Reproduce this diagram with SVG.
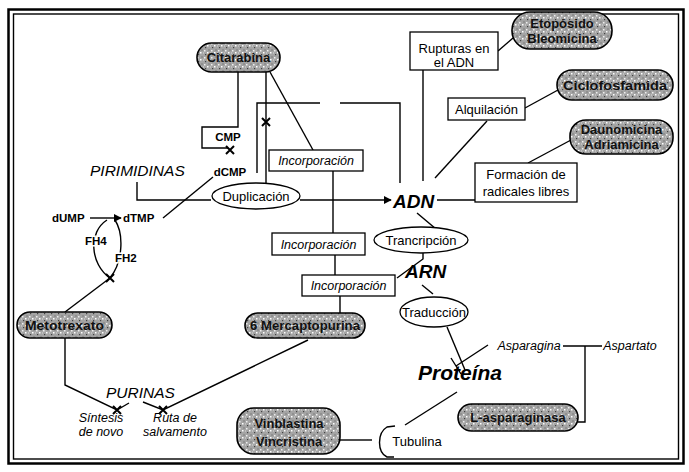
<svg xmlns="http://www.w3.org/2000/svg" width="689" height="472" viewBox="0 0 689 472">
<defs>
<pattern id="speck" width="7" height="7" patternUnits="userSpaceOnUse">
<rect width="7" height="7" fill="#a4a4a4"/>
<rect x="1" y="1" width="1.5" height="1.5" fill="#eee"/>
<rect x="4" y="3" width="1.5" height="1.5" fill="#fff"/>
<rect x="2" y="5" width="1.2" height="1.2" fill="#444"/>
<rect x="5.5" y="0.5" width="1" height="1" fill="#555"/>
<rect x="0" y="3.5" width="1" height="1" fill="#ddd"/>
</pattern>
<marker id="arr" viewBox="0 0 10 10" refX="9" refY="5" markerWidth="8" markerHeight="8" markerUnits="userSpaceOnUse" orient="auto">
<path d="M0,0 L10,5 L0,10 Z" fill="#000"/>
</marker>
</defs>
<style>
.ln{fill:none;stroke:#000;stroke-width:1.4}
.pill{fill:url(#speck);stroke:#000;stroke-width:1.6}
.box{fill:#fff;stroke:#000;stroke-width:1.3}
.ell{fill:#fff;stroke:#000;stroke-width:1.3}
.t{font-family:"Liberation Sans",Arial,sans-serif;font-size:13px;fill:#000;text-anchor:middle}
.ti{font-family:"Liberation Sans",Arial,sans-serif;font-size:12.5px;font-style:italic;fill:#000;text-anchor:middle}
.pt{font-family:"Liberation Sans",Arial,sans-serif;font-size:13px;font-weight:bold;fill:#111;text-anchor:middle}
.sb{font-family:"Liberation Sans",Arial,sans-serif;font-size:11.5px;font-weight:bold;fill:#000}
.big{font-family:"Liberation Sans",Arial,sans-serif;font-weight:bold;font-style:italic;fill:#000}
.cap{font-family:"Liberation Sans",Arial,sans-serif;font-size:15.5px;font-style:italic;fill:#000}
.halo{stroke:#fff;stroke-width:3;paint-order:stroke}
.xm{stroke:#000;stroke-width:2;fill:none}
</style>
<rect x="8.5" y="9.5" width="675" height="454" fill="#fff" stroke="#000" stroke-width="2.5"/>
<rect x="13.5" y="14" width="665" height="445" fill="none" stroke="#000" stroke-width="1.4"/>

<g id="connectors">
<path class="ln" d="M238,72 L238,127 L202,127 L202,148 L228,148"/>
<path class="ln" d="M266,72 L266,183"/>
<path class="ln" d="M270,72 L313,150"/>
<path class="ln" d="M257,173 L257,103 L320,103 M340,103 L400,103 L400,183"/>
<path class="ln" d="M300,200 L391,200" marker-end="url(#arr)"/>
<path class="ln" d="M137,182 L137,200 L211,200"/>
<path class="ln" d="M163,218 L213,177"/>
<path class="ln" d="M90,218 L121,218" marker-end="url(#arr)"/>
<path class="ln" d="M107,220 C88,232 90,264 110,278"/>
<path class="ln" d="M115,220 C124,234 123,262 110,278"/>
<path class="ln" d="M65,312 L110,278"/>
<path class="ln" d="M65,338 L65,385 L117,410 L129,403"/>
<path class="ln" d="M143,402 L163,410 L308,340"/>
<path class="ln" d="M333,171 L333,233"/>
<path class="ln" d="M335,255 L335,275"/>
<path class="ln" d="M340,296 L340,313"/>
<path class="ln" d="M423,70 L423,181"/>
<path class="ln" d="M498,51 L513,38"/>
<path class="ln" d="M487,121 L435,178"/>
<path class="ln" d="M525,108 L558,90"/>
<path class="ln" d="M437,200 L475,200"/>
<path class="ln" d="M528,163 L571,140"/>
<path class="ln" d="M417,213 L436,229"/>
<path class="ln" d="M397,278 L423,259 L423,253"/>
<path class="ln" d="M422,285 L433,294"/>
<path class="ln" d="M447,327 L465,370"/>
<path class="ln" d="M488,345 L456,366 M451,358 L461,374"/>
<path class="ln" d="M563,346 L602,346 M585,346 L585,422 L578,422"/>
<path class="ln" d="M457,392 L405,425"/>
<path class="ln" d="M340,440 L372,440"/>
<path class="ln" d="M395,426 L387,427 C377,433 377,452 387,457 L394,457"/>
</g>

<g id="xmarks">
<path class="xm" d="M226,146 L234,154 M234,146 L226,154"/>
<path class="xm" d="M262,118 L270,126 M270,118 L262,126"/>
<path class="xm" d="M106,274 L114,282 M114,274 L106,282"/>
<path class="xm" d="M113,406 L121,414 M121,406 L113,414"/>
<path class="xm" d="M159,406 L167,414 M167,406 L159,414"/>
</g>

<g id="citarabina"><rect class="pill" x="197" y="43" width="83" height="29" rx="14.5"/><text class="pt" x="238.5" y="62">Citarabina</text></g>
<g id="etoposido"><rect class="pill" x="512" y="12" width="100" height="37" rx="18"/><text class="pt" x="562" y="28">Etopósido</text><text class="pt" x="562" y="43">Bleomicina</text></g>
<g id="ciclofosfamida"><rect class="pill" x="557" y="70" width="116" height="30" rx="15"/><text class="pt" x="615" y="90" textLength="104" lengthAdjust="spacingAndGlyphs">Ciclofosfamida</text></g>
<g id="daunomicina"><rect class="pill" x="570" y="120" width="103" height="34" rx="16"/><text class="pt" x="621.5" y="134">Daunomicina</text><text class="pt" x="621.5" y="149">Adriamicina</text></g>
<g id="metotrexato"><rect class="pill" x="17" y="312" width="95" height="26" rx="13"/><text class="pt" x="64.5" y="330" textLength="79" lengthAdjust="spacingAndGlyphs">Metotrexato</text></g>
<g id="mercaptopurina"><rect class="pill" x="245" y="313" width="120" height="25" rx="12.5"/><text class="pt" x="305" y="330" textLength="110" lengthAdjust="spacingAndGlyphs">6 Mercaptopurina</text></g>
<g id="vinblastina"><rect class="pill" x="237" y="408" width="103" height="46" rx="17"/><text class="pt" x="289" y="428" font-size="14">Vinblastina</text><text class="pt" x="289" y="446" font-size="14">Vincristina</text></g>
<g id="asparaginasa"><rect class="pill" x="458" y="404" width="120" height="27" rx="13.5"/><text class="pt" x="518" y="422">L-asparaginasa</text></g>

<g id="rupturas"><rect class="box" x="410" y="32" width="88" height="38"/><text class="t" x="454" y="53">Rupturas en</text><text class="t" x="454" y="67">el ADN</text></g>
<g id="alquilacion"><rect class="box" x="448" y="98" width="77" height="22"/><text class="t" x="486.5" y="114">Alquilación</text></g>
<g id="formacion"><rect class="box" x="475" y="163" width="102" height="39"/><text class="t" x="526" y="179">Formación de</text><text class="t" x="526" y="196">radicales libres</text></g>
<g id="incorporacion1"><rect class="box" x="269" y="150" width="94" height="21"/><text class="ti" x="316" y="165">Incorporación</text></g>
<g id="incorporacion2"><rect class="box" x="272" y="233" width="93" height="22"/><text class="ti" x="318.5" y="249">Incorporación</text></g>
<g id="incorporacion3"><rect class="box" x="302" y="275" width="93" height="21"/><text class="ti" x="348.5" y="290">Incorporación</text></g>

<g id="duplicacion"><ellipse class="ell" cx="256" cy="196" rx="44" ry="13"/><text class="t" x="256" y="201">Duplicación</text></g>
<g id="trancripcion"><ellipse class="ell" cx="421" cy="240" rx="47" ry="13"/><text class="t" x="421" y="245">Trancripción</text></g>
<g id="traduccion"><ellipse class="ell" cx="434" cy="312" rx="34" ry="15"/><text class="t" x="434" y="317">Traducción</text></g>

<g id="labels">
<text class="big" x="393" y="208" font-size="19">ADN</text>
<text class="big" x="405" y="278" font-size="19">ARN</text>
<text class="big" x="418" y="380" font-size="21">Proteína</text>
<text class="cap" x="90" y="176">PIRIMIDINAS</text>
<text class="cap" x="106" y="398">PURINAS</text>
<text class="sb" x="228" y="141" text-anchor="middle">CMP</text>
<text class="sb" x="230" y="176" text-anchor="middle">dCMP</text>
<text class="sb" x="52" y="222">dUMP</text>
<text class="sb" x="123" y="222">dTMP</text>
<text class="sb halo" x="85" y="245">FH4</text>
<text class="sb halo" x="115" y="262">FH2</text>
<text class="ti" x="101" y="422" font-size="11.5">Síntesis</text>
<text class="ti" x="101" y="436" font-size="11.5">de novo</text>
<text class="ti" x="175" y="422" font-size="11.5">Ruta de</text>
<text class="ti" x="175" y="436" font-size="11.5">salvamento</text>
<text class="ti" x="529" y="350" font-size="12">Asparagina</text>
<text class="ti" x="630" y="350" font-size="12">Aspartato</text>
<text class="t" x="417" y="446" font-size="12">Tubulina</text>
</g>
</svg>
